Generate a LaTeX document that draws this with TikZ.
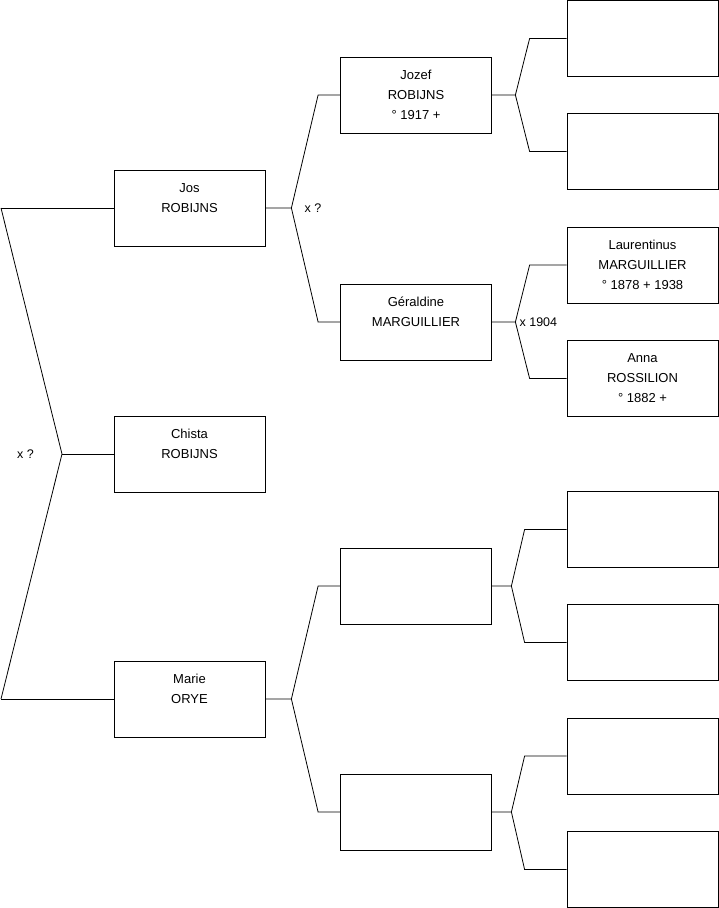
\documentclass[tikz,border=0pt]{standalone}
\usepackage{fontspec}
\setmainfont{Liberation Sans}
\usetikzlibrary{positioning}
\tikzset{
  person/.style={
    draw, rectangle, line width=0.8pt,
    minimum width=151pt, minimum height=76pt,
    inner sep=0pt, align=center,
    font=\fontsize{13}{20}\selectfont
  },
  fork/.style={draw, line width=0.8pt},
  marriage/.style={inner sep=1pt, font=\fontsize{12.5}{15}\selectfont},
}
\begin{document}
\begin{tikzpicture}[x=1pt, y=-1pt]
  \useasboundingbox (0,0) rectangle (719,908);

  % Kinderen
  \node[person] (jos)    at (189.5,208) {Jos\\ROBIJNS\\~};
  \node[person] (chista) at (189.5,454) {Chista\\ROBIJNS\\~};
  \node[person] (marie)  at (189.5,699) {Marie\\ORYE\\~};

  % Ouders
  \node[person] (jozef)     at (416,95)  {Jozef\\ROBIJNS\\° 1917 +};
  \node[person] (geraldine) at (416,322) {Géraldine\\MARGUILLIER\\~};
  \node[person] (marieV)    at (416,586) {};
  \node[person] (marieM)    at (416,812) {};

  % Grootouders
  \node[person] (jozefV)      at (642.5,38.5)  {};
  \node[person] (jozefM)      at (642.5,151.5) {};
  \node[person] (laurentinus) at (642.5,265)   {Laurentinus\\MARGUILLIER\\° 1878 + 1938};
  \node[person] (anna)        at (642.5,378.5) {Anna\\ROSSILION\\° 1882 +};
  \node[person] (marieVV)     at (642.5,529.5) {};
  \node[person] (marieVM)     at (642.5,642.5) {};
  \node[person] (marieMV)     at (642.5,756)   {};
  \node[person] (marieMM)     at (642.5,869.5) {};

  % Broers en zussen
  \coordinate (top)   at (1,208);
  \coordinate (bot)   at (1,699);
  \coordinate (vRoot) at (62,454);
  \draw[fork] (top) -- (jos.west);
  \draw[fork] (bot) -- (marie.west);
  \draw[fork] (top) -- (vRoot) -- (bot);
  \draw[fork] (vRoot) -- (chista.west);
  \node[marriage, left=27pt of vRoot] (xRoot) {x ?};

  % Ouders van Jos
  \coordinate (vJos) at ([xshift=26pt]jos.east);
  \draw[fork] (jos.east) -- (vJos) -- ([xshift=-22pt]jozef.west) -- (jozef.west);
  \draw[fork] (vJos) -- ([xshift=-22pt]geraldine.west) -- (geraldine.west);
  \node[marriage, right=12pt of vJos] (xJos) {x ?};

  % Ouders van Marie
  \coordinate (vMarie) at ([xshift=26pt]marie.east);
  \draw[fork] (marie.east) -- (vMarie) -- ([xshift=-22pt]marieV.west) -- (marieV.west);
  \draw[fork] (vMarie) -- ([xshift=-22pt]marieM.west) -- (marieM.west);

  % Ouders van Jozef
  \coordinate (vJozef) at ([xshift=23.5pt]jozef.east);
  \draw[fork] (jozef.east) -- (vJozef) -- ([xshift=-37pt]jozefV.west) -- (jozefV.west);
  \draw[fork] (vJozef) -- ([xshift=-37pt]jozefM.west) -- (jozefM.west);

  % Ouders van Géraldine
  \coordinate (vGer) at ([xshift=23.5pt]geraldine.east);
  \draw[fork] (geraldine.east) -- (vGer) -- ([xshift=-37pt]laurentinus.west) -- (laurentinus.west);
  \draw[fork] (vGer) -- ([xshift=-37pt]anna.west) -- (anna.west);
  \node[marriage, right=3pt of vGer] (xGer) {x 1904};

  % Grootouders langs Marie
  \coordinate (vMarieV) at ([xshift=19.5pt]marieV.east);
  \draw[fork] (marieV.east) -- (vMarieV) -- ([xshift=-42pt]marieVV.west) -- (marieVV.west);
  \draw[fork] (vMarieV) -- ([xshift=-42pt]marieVM.west) -- (marieVM.west);
  \coordinate (vMarieM) at ([xshift=19.5pt]marieM.east);
  \draw[fork] (marieM.east) -- (vMarieM) -- ([xshift=-42pt]marieMV.west) -- (marieMV.west);
  \draw[fork] (vMarieM) -- ([xshift=-42pt]marieMM.west) -- (marieMM.west);
\end{tikzpicture}
\end{document}
